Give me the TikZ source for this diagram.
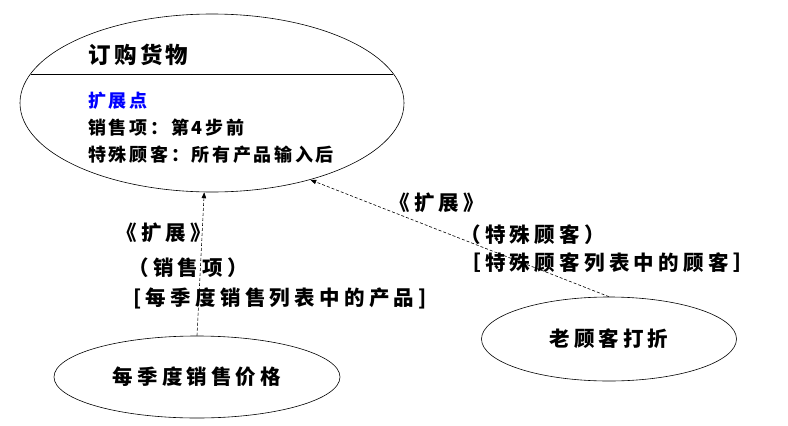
\documentclass[tikz,border=0pt]{standalone}
\usepackage{fontspec}
\setmainfont{Noto Sans CJK SC}[LetterSpace=15]
\usetikzlibrary{arrows.meta}
\usetikzlibrary{shapes.geometric}
\definecolor{extblue}{RGB}{0,0,255}
\tikzset{
    usecase/.style={draw, ellipse, inner sep=0pt, font=\fontsize{20.5}{23}\selectfont\bfseries\addfontfeatures{LetterSpace=20}},
    bodytext/.style={anchor=west, inner sep=0pt, font=\fontsize{18}{21}\selectfont\bfseries},
    labeltext/.style={anchor=west, inner sep=0pt, font=\fontsize{20.5}{23}\selectfont\bfseries\addfontfeatures{LetterSpace=21}},
}
\newcommand{\extendarrow}{\draw[dash pattern=on 3pt off 2pt, -{Triangle[length=6pt, width=4.5pt]}]}

\begin{document}
\begin{tikzpicture}[x=1pt, y=-1pt, line width=0.6pt]
    \useasboundingbox (0, 0) rectangle (788, 426);

    % Draw use cases
    \node[usecase, minimum width=384pt, minimum height=178pt] (order) at (212, 103) {};
    \node[usecase, minimum width=286pt, minimum height=82pt] (quarter) at (197, 377) {每季度销售价格};
    \node[usecase, minimum width=255pt, minimum height=84pt] (discount) at (609, 339) {老顾客打折};

    % Draw compartment
    \coordinate (sepL) at (31, 74);
    \coordinate (sepR) at (393, 74);
    \draw (sepL) -- (sepR);

    \node[bodytext, font=\fontsize{22.5}{25}\selectfont\bfseries] (title) at (88, 55) {订购货物};
    \node[bodytext, text=extblue] (extpoint) at (88, 101) {扩展点};
    \node[bodytext] (salesitem) at (88, 128) {销售项：第4步前};
    \node[bodytext] (specialcust) at (88, 155) {特殊顾客：所有产品输入后};

    % Draw extends
    \extendarrow (quarter.north) -- (order.265);
    \extendarrow (discount.north) -- (order.322);

    \node[labeltext] (extL) at (116, 233) {《扩展》};
    \node[labeltext] (condL) at (128, 268) {（销售项）};
    \node[labeltext] (guardL) at (133, 298) {[每季度销售列表中的产品]};

    \node[labeltext] (extR) at (389, 203) {《扩展》};
    \node[labeltext] (condR) at (460, 235) {（特殊顾客）};
    \node[labeltext] (guardR) at (460, 263) {［特殊顾客列表中的顾客］};
\end{tikzpicture}
\end{document}
